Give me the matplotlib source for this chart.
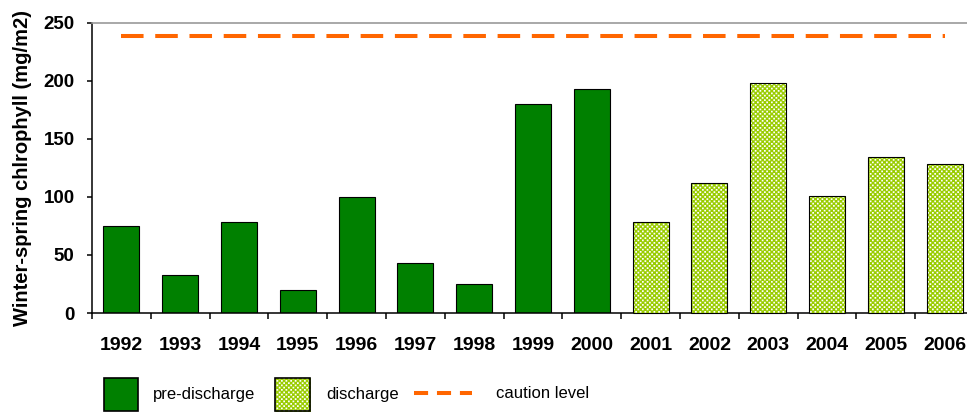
import numpy as np
import matplotlib
matplotlib.use("Agg")
import matplotlib.pyplot as plt
from matplotlib.patches import Rectangle
from matplotlib.lines import Line2D

plt.rcParams['font.family'] = ['Liberation Sans', 'DejaVu Sans']

years = ['1992', '1993', '1994', '1995', '1996', '1997', '1998', '1999',
         '2000', '2001', '2002', '2003', '2004', '2005', '2006']
chlorophyll = [75, 33, 78, 20, 100, 43, 25, 180, 193, 78, 112, 198, 101, 134, 128]
phase = ['pre-discharge'] * 9 + ['discharge'] * 6
caution_level = 238
y_ticks = [0, 50, 100, 150, 200, 250]

GREEN = '#008000'
CHECK_GREEN = np.array([0x99, 0xCC, 0x00]) / 255.0
ORANGE = '#FF6600'

W, H, DPI = 967, 413, 100
fig = plt.figure(figsize=(W / DPI, H / DPI), dpi=DPI)


def fx(px):
    return px / W


def fy(py):
    return 1 - py / H


ax_left, ax_right, ax_top, ax_bottom = 92, 974, 22.5, 313
ax = fig.add_axes([fx(ax_left), fy(ax_bottom), fx(ax_right - ax_left),
                   (ax_bottom - ax_top) / H])

x = np.arange(len(years))
bar_w = 0.61


def checker(h, w, cell=2.3, ss=4, inset=0.12):
    """Green checkerboard with slightly shrunken white squares, supersampled."""
    yy, xx = np.mgrid[0:h * ss, 0:w * ss] / (cell * ss)
    iy, ix = np.floor(yy), np.floor(xx)
    fy_, fx_ = yy - iy, xx - ix
    white_cell = (iy + ix) % 2 == 1
    inner = (fy_ > inset) & (fy_ < 1 - inset) & (fx_ > inset) & (fx_ < 1 - inset)
    green = ~(white_cell & inner)
    cov = green.reshape(h, ss, w, ss).mean(axis=(1, 3))[..., None]
    return cov * CHECK_GREEN + (1 - cov) * np.ones(3)


tex = checker(H, W)

ax.set_xlim(-0.5, len(years) - 0.5)
ax.set_ylim(0, 250)

pre_idx = [i for i, p in enumerate(phase) if p == 'pre-discharge']
dis_idx = [i for i, p in enumerate(phase) if p == 'discharge']

ax.bar(x[pre_idx], [chlorophyll[i] for i in pre_idx], width=bar_w,
       color=GREEN, edgecolor='black', linewidth=0.8, zorder=2)

# discharge bars: pixel-aligned checkerboard clipped to each bar, outline on top
dis_bars = ax.bar(x[dis_idx], [chlorophyll[i] for i in dis_idx], width=bar_w,
                  facecolor='none', edgecolor='none', zorder=1)
for r in dis_bars:
    im = fig.figimage(tex, xo=0, yo=0, zorder=1)
    im.set_clip_path(r)
    fig.add_artist(Rectangle(r.get_xy(), r.get_width(), r.get_height(),
                             transform=ax.transData, facecolor='none',
                             edgecolor='black', linewidth=0.8, zorder=2))

ax.plot(x, [caution_level] * len(x), color=ORANGE, linewidth=2.9,
        dashes=(5.6, 2.9), solid_capstyle='butt', dash_capstyle='butt', zorder=3)

# axes styling
ax.spines['right'].set_visible(False)
ax.spines['top'].set_color('#9a9a9a')
ax.spines['top'].set_linewidth(1.2)
ax.spines['left'].set_linewidth(1.1)
ax.spines['bottom'].set_linewidth(1.1)

ax.set_yticks(y_ticks)
ax.set_yticklabels([str(v) for v in y_ticks], fontsize=13.5, fontweight='bold')
ax.tick_params(axis='y', direction='out', length=3.5, width=1.1, pad=9)

ax.set_xticks(x)
ax.set_xticklabels(years, fontsize=14, fontweight='bold')
ax.set_xticks(np.arange(len(years) + 1) - 0.5, minor=True)
ax.tick_params(axis='x', which='major', length=0, pad=17)
ax.tick_params(axis='x', which='minor', direction='out', length=4.6, width=1.1)

ax.set_ylabel('Winter-spring chlrophyll (mg/m2)', fontsize=14.5, fontweight='bold',
              labelpad=8)

# legend drawn in figure coordinates
box_h = 33
pre_box = Rectangle((fx(104), fy(411)), fx(34), box_h / H, transform=fig.transFigure,
                    facecolor=GREEN, edgecolor='black', linewidth=1.2, zorder=5)
fig.add_artist(pre_box)
fig.text(fx(153), fy(394), 'pre-discharge', fontsize=12, va='center', ha='left')

dis_clip = Rectangle((fx(275), fy(411)), fx(35), box_h / H, transform=fig.transFigure,
                     facecolor='none', edgecolor='none', zorder=4)
fig.add_artist(dis_clip)
fimg = fig.figimage(tex, xo=0, yo=0, zorder=5)
fimg.set_clip_path(dis_clip)
fig.add_artist(Rectangle((fx(275), fy(411)), fx(35), box_h / H,
                         transform=fig.transFigure, facecolor='none',
                         edgecolor='black', linewidth=1.2, zorder=6))
fig.text(fx(326), fy(394), 'discharge', fontsize=12, va='center', ha='left')

fig.add_artist(Line2D([fx(414), fx(472)], [fy(393), fy(393)], transform=fig.transFigure,
                      color=ORANGE, linewidth=2.9, dashes=(3.5, 2.2),
                      dash_capstyle='butt', zorder=6))
fig.text(fx(496), fy(394), 'caution level', fontsize=12, va='center', ha='left')

fig.savefig('out.png', dpi=DPI)
